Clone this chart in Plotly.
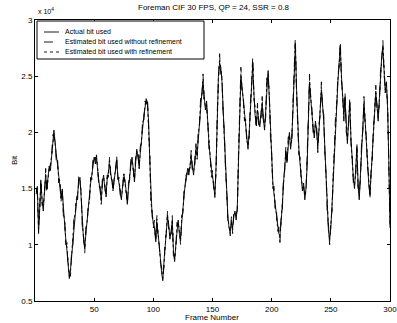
import plotly.graph_objects as go

# Values in units of 10^4 bits, frames 1..300
frames = list(range(1, 301))

actual_bits = [
    1.45, 1.52, 1.10, 1.35, 1.55, 1.40, 1.30, 1.48, 1.62, 1.50,
    1.58, 1.70, 1.66, 1.82, 1.90, 2.02, 1.88, 1.80, 1.72, 1.60,
    1.55, 1.42, 1.48, 1.30, 1.20, 1.05, 0.95, 0.82, 0.70, 0.78,
    0.90, 1.05, 1.20, 1.30, 1.38, 1.45, 1.56, 1.60, 1.42, 1.20,
    1.05, 0.98, 1.10, 1.22, 1.30, 1.42, 1.55, 1.62, 1.70, 1.78,
    1.72, 1.80, 1.65, 1.55, 1.48, 1.40, 1.55, 1.62, 1.50, 1.45,
    1.58, 1.66, 1.72, 1.64, 1.55, 1.50, 1.58, 1.68, 1.75, 1.62,
    1.55, 1.48, 1.40, 1.52, 1.60, 1.58, 1.45, 1.38, 1.50, 1.62,
    1.70, 1.78, 1.65, 1.58, 1.72, 1.85, 1.78, 1.70, 1.82, 1.95,
    2.05, 2.15, 2.22, 2.30, 2.25, 2.10, 1.75, 1.40, 1.25, 1.20,
    1.15, 1.05, 1.20, 1.10, 0.95, 0.88, 0.75, 0.68, 0.85, 1.00,
    1.15, 1.25, 1.18, 1.05, 1.12, 1.20, 0.95, 0.85, 1.00, 1.15,
    1.22, 1.10, 1.05, 1.20, 1.32, 1.45, 1.55, 1.60, 1.68, 1.62,
    1.72, 1.78, 1.70, 1.62, 1.75, 1.85, 1.80, 1.95, 2.10, 2.25,
    2.35, 2.45, 2.30, 2.20, 2.28, 2.05, 1.90, 1.78, 1.65, 1.60,
    1.55, 1.42, 1.70, 2.10, 2.50, 2.62, 2.58, 2.45, 2.20, 1.95,
    1.70, 1.45, 1.25, 1.15, 1.12, 1.20, 1.15, 1.25, 1.30, 1.22,
    1.35, 1.75, 2.25, 2.50, 2.40, 2.28, 2.15, 2.05, 1.95, 1.85,
    2.00, 2.20, 2.45, 2.60, 2.35, 2.15, 2.08, 2.20, 2.12, 2.05,
    2.18, 2.25, 2.12, 2.02, 2.20, 2.45, 2.55, 2.30, 2.00, 1.75,
    1.55, 1.45, 1.35, 1.25, 1.18, 1.10, 1.08, 1.20, 1.35, 1.55,
    1.70, 1.82, 1.75, 1.90, 2.00, 1.85, 1.95, 2.20, 2.55, 2.78,
    2.40, 2.05, 1.85, 1.72, 1.60, 1.48, 1.55, 1.40, 1.50, 1.70,
    2.10, 2.45, 2.30, 2.15, 2.05, 1.95, 2.10, 2.00, 1.88, 2.02,
    2.20, 2.38, 2.25, 2.10, 1.85, 1.55, 1.30, 1.12, 1.05, 1.15,
    1.35, 1.60, 1.85, 2.10, 2.30, 2.45, 2.62, 2.75, 2.50, 2.30,
    2.15, 2.30, 2.05, 1.90, 2.10, 2.25, 1.95, 1.75, 1.60, 1.50,
    1.65, 1.85, 1.55, 1.40, 1.62, 1.85, 2.05, 2.25, 2.10, 1.90,
    1.72, 1.55, 1.45, 1.60, 1.80, 2.00, 2.20, 2.35, 2.25, 2.10,
    2.30, 2.50, 2.68, 2.75, 2.55, 2.35, 2.45, 2.20, 1.75, 1.15,
]

est_no_refine = [
    1.50, 1.45, 1.18, 1.30, 1.60, 1.35, 1.38, 1.42, 1.68, 1.45,
    1.62, 1.65, 1.72, 1.78, 1.98, 1.95, 1.92, 1.74, 1.78, 1.55,
    1.60, 1.38, 1.52, 1.25, 1.26, 1.00, 1.02, 0.78, 0.76, 0.72,
    0.96, 1.00, 1.26, 1.25, 1.44, 1.40, 1.62, 1.55, 1.48, 1.15,
    1.10, 0.92, 1.16, 1.18, 1.36, 1.38, 1.60, 1.58, 1.76, 1.72,
    1.78, 1.74, 1.70, 1.50, 1.52, 1.36, 1.60, 1.58, 1.55, 1.40,
    1.62, 1.60, 1.78, 1.58, 1.60, 1.46, 1.62, 1.64, 1.80, 1.58,
    1.60, 1.44, 1.45, 1.48, 1.66, 1.54, 1.50, 1.34, 1.55, 1.58,
    1.76, 1.72, 1.70, 1.54, 1.78, 1.80, 1.84, 1.66, 1.88, 1.90,
    2.12, 2.10, 2.28, 2.25, 2.32, 2.05, 1.82, 1.35, 1.30, 1.15,
    1.22, 1.00, 1.26, 1.05, 1.00, 0.84, 0.80, 0.72, 0.80, 1.05,
    1.10, 1.30, 1.12, 1.10, 1.08, 1.26, 0.90, 0.90, 0.95, 1.20,
    1.18, 1.15, 1.00, 1.26, 1.28, 1.50, 1.50, 1.66, 1.62, 1.68,
    1.68, 1.84, 1.65, 1.68, 1.70, 1.90, 1.76, 2.02, 2.05, 2.32,
    2.30, 2.52, 2.25, 2.26, 2.22, 2.12, 1.85, 1.84, 1.60, 1.66,
    1.50, 1.48, 1.64, 2.18, 2.45, 2.70, 2.52, 2.50, 2.15, 2.02,
    1.65, 1.50, 1.20, 1.20, 1.08, 1.25, 1.10, 1.30, 1.26, 1.28,
    1.30, 1.82, 2.20, 2.58, 2.35, 2.34, 2.10, 2.12, 1.90, 1.92,
    1.95, 2.26, 2.40, 2.68, 2.30, 2.22, 2.02, 2.26, 2.06, 2.12,
    2.12, 2.32, 2.06, 2.08, 2.14, 2.52, 2.48, 2.36, 1.95, 1.82,
    1.50, 1.52, 1.30, 1.32, 1.12, 1.16, 1.02, 1.26, 1.30, 1.62,
    1.65, 1.88, 1.70, 1.96, 1.95, 1.92, 1.90, 2.26, 2.50, 2.85,
    2.35, 2.12, 1.80, 1.78, 1.55, 1.54, 1.50, 1.46, 1.45, 1.76,
    2.05, 2.52, 2.25, 2.22, 2.00, 2.02, 2.05, 2.06, 1.82, 2.08,
    2.15, 2.45, 2.20, 2.16, 1.80, 1.62, 1.25, 1.18, 1.00, 1.22,
    1.30, 1.66, 1.80, 2.16, 2.25, 2.52, 2.58, 2.82, 2.45, 2.36,
    2.10, 2.36, 2.00, 1.96, 2.05, 2.32, 1.90, 1.82, 1.55, 1.56,
    1.60, 1.92, 1.50, 1.46, 1.58, 1.92, 2.00, 2.32, 2.05, 1.96,
    1.68, 1.62, 1.40, 1.66, 1.75, 2.06, 2.15, 2.42, 2.20, 2.16,
    2.25, 2.56, 2.62, 2.82, 2.50, 2.42, 2.40, 2.26, 1.70, 1.20,
]

est_refine = [
    1.47, 1.50, 1.14, 1.33, 1.57, 1.38, 1.33, 1.46, 1.64, 1.48,
    1.60, 1.68, 1.69, 1.80, 1.93, 1.99, 1.90, 1.78, 1.75, 1.58,
    1.57, 1.40, 1.50, 1.28, 1.22, 1.03, 0.98, 0.80, 0.72, 0.76,
    0.93, 1.03, 1.23, 1.28, 1.41, 1.43, 1.59, 1.58, 1.45, 1.18,
    1.07, 0.96, 1.13, 1.20, 1.33, 1.40, 1.58, 1.60, 1.73, 1.76,
    1.75, 1.77, 1.68, 1.53, 1.50, 1.38, 1.57, 1.60, 1.52, 1.43,
    1.60, 1.63, 1.75, 1.61, 1.57, 1.48, 1.60, 1.66, 1.77, 1.60,
    1.57, 1.46, 1.42, 1.50, 1.63, 1.56, 1.47, 1.36, 1.52, 1.60,
    1.73, 1.75, 1.67, 1.56, 1.75, 1.83, 1.81, 1.68, 1.85, 1.93,
    2.08, 2.13, 2.25, 2.28, 2.28, 2.08, 1.78, 1.38, 1.27, 1.18,
    1.18, 1.03, 1.23, 1.08, 0.97, 0.86, 0.77, 0.70, 0.83, 1.02,
    1.13, 1.27, 1.15, 1.07, 1.10, 1.23, 0.93, 0.87, 0.98, 1.17,
    1.20, 1.12, 1.03, 1.23, 1.30, 1.47, 1.53, 1.63, 1.65, 1.65,
    1.70, 1.81, 1.68, 1.65, 1.73, 1.87, 1.78, 1.98, 2.08, 2.28,
    2.33, 2.48, 2.28, 2.23, 2.25, 2.08, 1.88, 1.80, 1.63, 1.62,
    1.53, 1.45, 1.67, 2.13, 2.48, 2.66, 2.55, 2.48, 2.18, 1.98,
    1.68, 1.47, 1.23, 1.17, 1.10, 1.22, 1.13, 1.27, 1.28, 1.25,
    1.33, 1.78, 2.23, 2.53, 2.38, 2.30, 2.13, 2.08, 1.93, 1.88,
    1.98, 2.23, 2.43, 2.63, 2.33, 2.18, 2.05, 2.23, 2.10, 2.08,
    2.15, 2.28, 2.10, 2.05, 2.17, 2.48, 2.52, 2.33, 1.98, 1.78,
    1.53, 1.48, 1.33, 1.28, 1.15, 1.13, 1.05, 1.23, 1.33, 1.58,
    1.68, 1.85, 1.73, 1.93, 1.98, 1.88, 1.93, 2.23, 2.53, 2.80,
    2.38, 2.08, 1.83, 1.75, 1.58, 1.50, 1.53, 1.43, 1.48, 1.73,
    2.08, 2.48, 2.28, 2.18, 2.03, 1.98, 2.08, 2.03, 1.85, 2.05,
    2.18, 2.40, 2.23, 2.13, 1.83, 1.58, 1.28, 1.15, 1.03, 1.18,
    1.33, 1.63, 1.83, 2.13, 2.28, 2.48, 2.60, 2.78, 2.48, 2.33,
    2.13, 2.33, 2.03, 1.93, 2.08, 2.28, 1.93, 1.78, 1.58, 1.53,
    1.63, 1.88, 1.53, 1.43, 1.60, 1.88, 2.03, 2.28, 2.08, 1.93,
    1.70, 1.58, 1.43, 1.63, 1.78, 2.03, 2.18, 2.38, 2.23, 2.13,
    2.28, 2.53, 2.65, 2.78, 2.53, 2.38, 2.43, 2.23, 1.73, 1.18,
]

series_names = ["Actual bit used",
                "Estimated bit used without refinement",
                "Estimated bit used with refinement"]
series_dash = ["solid", "dash", "dot"]

x_ticks = [50, 100, 150, 200, 250, 300]
y_ticks = [0.5, 1, 1.5, 2, 2.5, 3]
y_tick_labels = ["0.5", "1", "1.5", "2", "2.5", "3"]

FONT = "Liberation Sans, Arial, sans-serif"

W, H = 397, 323
ML, MR, MT, MB = 35, 7, 20, 22
PW, PH = W - ML - MR, H - MT - MB


def px(xp):
    return (xp - ML) / PW


def py(yp):
    return (H - MB - yp) / PH


fig = go.Figure()
for name, ys, dash in zip(series_names, [actual_bits, est_no_refine, est_refine], series_dash):
    fig.add_trace(go.Scatter(x=frames, y=ys, mode="lines", name=name, showlegend=False,
                             line=dict(color="black", width=0.9, dash=dash)))

axis_common = dict(showline=True, linecolor="black", linewidth=1, mirror="ticks",
                   ticks="inside", ticklen=3, tickcolor="black", showgrid=False,
                   zeroline=False, automargin=False, ticklabeloverflow="allow",
                   tickfont=dict(family=FONT, size=8, color="black"))

fig.update_layout(
    width=W, height=H,
    margin=dict(l=ML, r=MR, t=MT, b=MB),
    paper_bgcolor="white", plot_bgcolor="white",
    font=dict(family=FONT, size=8, color="black"),
    showlegend=False,
    xaxis=dict(range=[0, 300], tickvals=x_ticks, **axis_common),
    yaxis=dict(range=[0.5, 3], tickvals=y_ticks, ticktext=y_tick_labels, **axis_common),
)

ann_font = dict(family=FONT, size=8, color="black")
# title
fig.add_annotation(text="Foreman CIF 30 FPS, QP = 24, SSR = 0.8", xref="paper", yref="paper",
                   x=px(214), y=py(7), xanchor="center", yanchor="middle",
                   showarrow=False, font=ann_font)
# axis titles
fig.add_annotation(text="Frame Number", xref="paper", yref="paper",
                   x=px(212), y=py(317), xanchor="center", yanchor="middle",
                   showarrow=False, font=ann_font)
fig.add_annotation(text="Bit", xref="paper", yref="paper", textangle=-90,
                   x=px(14), y=py(160), xanchor="center", yanchor="middle",
                   showarrow=False, font=ann_font)
# exponent label
fig.add_annotation(text="x 10<sup>4</sup>", xref="paper", yref="paper",
                   x=px(36), y=py(11), xanchor="left", yanchor="middle",
                   showarrow=False, font=dict(family=FONT, size=7, color="black"))

# legend box (drawn manually for compact spacing)
fig.add_shape(type="rect", xref="paper", yref="paper",
              x0=px(37), x1=px(204), y0=py(59), y1=py(21),
              line=dict(color="black", width=1), fillcolor="white", layer="above")
for i, (name, dash) in enumerate(zip(series_names, series_dash)):
    yy = 32 + 10 * i
    fig.add_shape(type="line", xref="paper", yref="paper",
                  x0=px(44), x1=px(59), y0=py(yy), y1=py(yy),
                  line=dict(color="black", width=0.9, dash=dash), layer="above")
    fig.add_annotation(text=name, xref="paper", yref="paper",
                       x=px(63), y=py(yy), xanchor="left", yanchor="middle",
                       showarrow=False, font=dict(family=FONT, size=7, color="black"))

fig.write_html("out.html", config={"displayModeBar": False},
               post_script="document.body.style.margin='0';document.body.style.overflow='hidden';")
